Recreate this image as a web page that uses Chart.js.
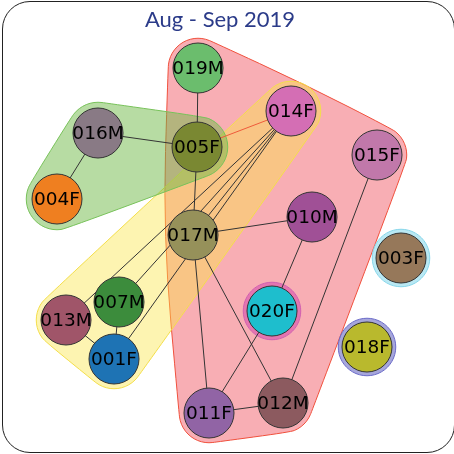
<!DOCTYPE html>
<html>
<head>
<meta charset="utf-8">
<script src="https://cdn.jsdelivr.net/npm/chart.js@4.4.1/dist/chart.umd.min.js"></script>
<style>
  html, body { margin: 0; padding: 0; background: #fff; }
  #wrap { position: relative; width: 454px; height: 454px; overflow: hidden; }
  #box { position: absolute; left: 2px; top: 1px; width: 453px; height: 452px; box-sizing: border-box;
         border: 1.5px solid #222; border-radius: 28px; }
  #title { position: absolute; left: 0; top: 5px; width: 440px; text-align: center;
           font: 22px Lato, sans-serif; color: #2b3b89; line-height: 27px; }
  canvas { position: absolute; left: 0; top: 0; }
</style>
</head>
<body>
<div id="wrap">
  <div id="box"></div>
  <canvas id="myChart" width="454" height="454"></canvas>
  <div id="title">Aug - Sep 2019</div>
</div>
<script>
// nodes : id, layout position, colour
const nodeIds = ["019M", "014F", "016M", "005F", "015F", "004F", "010M", "017M",
                 "003F", "007M", "013M", "020F", "001F", "018F", "011F", "012M"];
const nodeX = [198, 291, 98, 197, 377, 57, 312, 193, 401, 119, 66, 272, 114, 367, 209, 283];
const nodeY = [68, 111, 133, 147, 155, 199, 217, 235, 258, 302, 320, 311, 359, 347, 413, 403];
const nodeColors = ["#6bbd6d", "#d46eb4", "#897a85", "#7a8832", "#c178aa", "#ef7f20", "#a05096", "#96915a",
                    "#96785a", "#3c8c3c", "#a05569", "#1ebecd", "#1e73b4", "#b9b92d", "#9164a5", "#8c5a5f"];

// edges between nodes
const edgeFrom = ["019M", "016M", "016M", "005F", "005F", "014F", "014F", "014F", "014F",
                  "017M", "017M", "017M", "010M", "020F", "011F", "015F", "007M", "013M"];
const edgeTo   = ["005F", "005F", "004F", "014F", "017M", "017M", "013M", "007M", "001F",
                  "010M", "011F", "012M", "020F", "011F", "012M", "012M", "001F", "001F"];
const edgeColors = ["#333", "#333", "#333", "#ee5a3a", "#333", "#333", "#333", "#333", "#333",
                    "#333", "#333", "#333", "#333", "#333", "#333", "#333", "#333", "#333"];

// groups (hulls)
const groupMembers = [
  ["019M", "005F", "014F", "015F", "017M", "010M", "020F", "011F", "012M"],
  ["014F", "017M", "007M", "013M", "001F"],
  ["016M", "004F", "005F"],
  ["003F"],
  ["020F"],
  ["018F"]
];
const groupFill = ["rgba(238,62,76,0.42)", "rgba(250,228,70,0.42)", "rgba(112,186,72,0.5)",
                   "rgba(100,205,228,0.45)", "rgba(215,80,175,0.6)", "rgba(92,92,190,0.55)"];
const groupLine = ["#f0503c", "#f3de4a", "#78c25a", "#86d6ea", "#d060b0", "#6a6ac8"];
const groupPad = [30, 30, 31, 29, 29, 29];

function convexHull(points) {
  const p = points.slice().sort((a, b) => a.x - b.x || a.y - b.y);
  const cross = (o, a, b) => (a.x - o.x) * (b.y - o.y) - (a.y - o.y) * (b.x - o.x);
  const lower = [];
  for (const pt of p) {
    while (lower.length >= 2 && cross(lower[lower.length - 2], lower[lower.length - 1], pt) <= 0) lower.pop();
    lower.push(pt);
  }
  const upper = [];
  for (let i = p.length - 1; i >= 0; i--) {
    const pt = p[i];
    while (upper.length >= 2 && cross(upper[upper.length - 2], upper[upper.length - 1], pt) <= 0) upper.pop();
    upper.push(pt);
  }
  upper.pop();
  lower.pop();
  return lower.concat(upper);
}

const hullPlugin = {
  id: "hulls",
  beforeDatasetsDraw(chart) {
    const ctx = chart.ctx;
    const xs = chart.scales.x;
    const ys = chart.scales.y;
    groupMembers.forEach((members, g) => {
      const r = groupPad[g];
      const cand = [];
      members.forEach(id => {
        const i = nodeIds.indexOf(id);
        const cx = xs.getPixelForValue(nodeX[i]);
        const cy = ys.getPixelForValue(nodeY[i]);
        for (let k = 0; k < 24; k++) {
          const a = k * Math.PI / 12;
          cand.push({ x: cx + r * Math.cos(a), y: cy + r * Math.sin(a) });
        }
      });
      const hull = convexHull(cand);
      const n = hull.length;
      ctx.save();
      ctx.beginPath();
      const mid = (a, b) => ({ x: (a.x + b.x) / 2, y: (a.y + b.y) / 2 });
      let m0 = mid(hull[n - 1], hull[0]);
      ctx.moveTo(m0.x, m0.y);
      for (let k = 0; k < n; k++) {
        const m = mid(hull[k], hull[(k + 1) % n]);
        ctx.quadraticCurveTo(hull[k].x, hull[k].y, m.x, m.y);
      }
      ctx.closePath();
      ctx.fillStyle = groupFill[g];
      ctx.fill();
      ctx.lineWidth = 1;
      ctx.strokeStyle = groupLine[g];
      ctx.stroke();
      ctx.restore();
    });
  }
};

const labelPlugin = {
  id: "nodeLabels",
  afterDatasetsDraw(chart) {
    const ctx = chart.ctx;
    const meta = chart.getDatasetMeta(0);
    ctx.save();
    ctx.font = "18.5px 'DejaVu Sans'";
    ctx.fillStyle = "#000";
    ctx.textAlign = "center";
    ctx.textBaseline = "middle";
    meta.data.forEach((pt, i) => {
      ctx.fillText(nodeIds[i], pt.x, pt.y + 1);
    });
    ctx.restore();
  }
};

const pos = id => {
  const i = nodeIds.indexOf(id);
  return { x: nodeX[i], y: nodeY[i] };
};

const datasets = [
  {
    label: "nodes",
    data: nodeIds.map((id, i) => ({ x: nodeX[i], y: nodeY[i] })),
    backgroundColor: nodeColors,
    borderColor: "#333",
    borderWidth: 1,
    pointRadius: 25,
    pointHoverRadius: 25,
    order: 0,
    clip: false
  }
];
edgeFrom.forEach((a, k) => {
  datasets.push({
    label: a + "-" + edgeTo[k],
    data: [pos(a), pos(edgeTo[k])],
    showLine: true,
    borderColor: edgeColors[k],
    borderWidth: 1,
    pointRadius: 0,
    order: 1,
    clip: false
  });
});

const ctx = document.getElementById("myChart").getContext("2d");
const chart = new Chart(ctx, {
  type: "scatter",
  data: { datasets: datasets },
  options: {
    responsive: false,
    animation: false,
    events: [],
    layout: { padding: 0, autoPadding: false },
    plugins: { legend: { display: false }, tooltip: { enabled: false }, title: { display: false } },
    scales: {
      x: { type: "linear", min: 0, max: 454, display: false },
      y: { type: "linear", min: 0, max: 454, reverse: true, display: false }
    }
  },
  plugins: [hullPlugin, labelPlugin]
});
</script>
</body>
</html>
